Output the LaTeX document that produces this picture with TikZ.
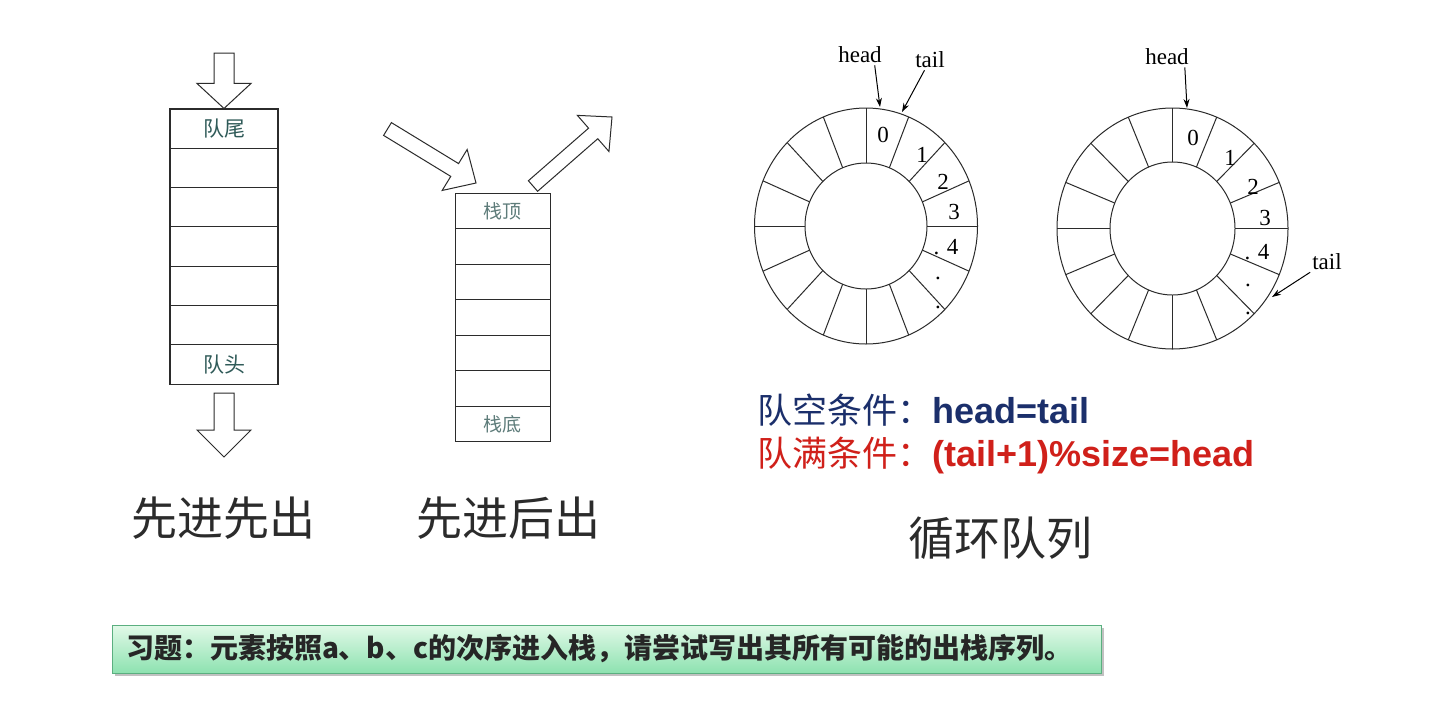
\documentclass[tikz,border=0pt]{standalone}
\usepackage{fontspec}
\setmainfont{Liberation Serif}
\newfontfamily\cjk{Noto Sans CJK SC}
\newfontfamily\arialfont{Liberation Sans}
\usetikzlibrary{calc,arrows.meta,shadows,positioning}
\definecolor{ink}{HTML}{2B2B2B}
\definecolor{qtext}{HTML}{2F5A58}
\definecolor{stext}{HTML}{5E7C7A}
\definecolor{navy}{HTML}{1B2F6B}
\definecolor{redc}{HTML}{D0201A}
\definecolor{boxtop}{HTML}{E2F9E8}
\definecolor{boxbot}{HTML}{8DE2B0}
\definecolor{boxline}{HTML}{5BAF80}
\tikzset{
  qcell/.style={draw=ink, line width=1.1pt, minimum width=108pt, minimum height=39.3pt, inner sep=0pt, text=qtext, font=\cjk\fontsize{21}{21}\selectfont},
  scell/.style={draw=ink, line width=1pt, minimum width=95pt, minimum height=35.57pt, inner sep=0pt, text=stext, font=\cjk\fontsize{19}{19}\selectfont},
  blockarr/.style={draw=ink, line width=1pt, fill=white, line join=miter},
  ringline/.style={draw=ink, line width=1pt},
  digit/.style={inner sep=0pt, text=black, font=\fontsize{23}{23}\selectfont},
  ptrlabel/.style={inner sep=2pt, text=black, font=\fontsize{23}{23}\selectfont},
  ptr/.style={draw=black, line width=1pt, -{Stealth[length=9pt,width=6pt]}},
  caption/.style={inner sep=0pt, text=ink, font=\cjk\fontsize{46}{46}\selectfont},
  condtext/.style={anchor=west, inner sep=0pt},
  taskbox/.style={draw=boxline, line width=1pt, top color=boxtop, bottom color=boxbot, anchor=west, minimum height=48pt, text width=962pt, inner xsep=13.5pt, align=left, text=black!85, font=\cjk\bfseries\fontsize{28}{28}\selectfont, drop shadow={shadow xshift=2pt, shadow yshift=-3pt, fill=black!40, opacity=.6}}
}
\newcommand\blockarrow[5]{
  \coordinate (#1-b) at ($(#2)!#5!(#1)$);
  \draw[blockarr] ($(#1)!#3!90:(#2)$) -- ($(#1-b)!#3!90:(#2)$) -- ($(#1-b)!#4!90:(#2)$) -- (#2) -- ($(#1-b)!#4!-90:(#2)$) -- ($(#1-b)!#3!-90:(#2)$) -- ($(#1)!#3!-90:(#2)$) -- cycle;
}
\begin{document}
\begin{tikzpicture}[x=1pt,y=-1pt]
\useasboundingbox[fill=white] (0,0) rectangle (1435,721);
\node[qcell] (q1) at (224,128.65){队尾};
\node[qcell] (q2) at (224,167.95){};
\node[qcell] (q3) at (224,207.25){};
\node[qcell] (q4) at (224,246.55){};
\node[qcell] (q5) at (224,285.85){};
\node[qcell] (q6) at (224,325.15){};
\node[qcell] (q7) at (224,364.45){队头};
\coordinate (qin) at (224,53);
\coordinate (qout) at (224,393);
\coordinate (qout-p) at (224,457);
\blockarrow{qin}{q1.north}{10pt}{27pt}{25pt}
\blockarrow{qout}{qout-p}{10pt}{27pt}{27pt}
\node[scell] (s1) at (502.5,210.8){栈顶};
\node[scell] (s2) at (502.5,246.4){};
\node[scell] (s3) at (502.5,281.9){};
\node[scell] (s4) at (502.5,317.5){};
\node[scell] (s5) at (502.5,353.1){};
\node[scell] (s6) at (502.5,388.6){};
\node[scell] (s7) at (502.5,424.2){栈底};
\coordinate (sin) at (387.5,129);
\coordinate (sin-p) at (476,183);
\coordinate (sout) at (533,186);
\coordinate (sout-p) at (612,117);
\blockarrow{sin}{sin-p}{7.5pt}{24pt}{25pt}
\blockarrow{sout}{sout-p}{7pt}{24pt}{25pt}
\coordinate (r1) at (866,226);
\draw[ringline] (r1) ellipse [x radius=111.5pt, y radius=118pt];
\draw[ringline] (r1) ellipse [x radius=61pt, y radius=63pt];
\foreach \a in {0,22.5,...,337.5}
  \draw[ringline, shift={(r1)}] (\a:61pt and 63pt) -- (\a:111.5pt and 118pt);
\node[digit] (d10) at (883,135){0};
\node[digit] (d11) at (922,155){1};
\node[digit] (d12) at (943,182){2};
\node[digit] (d13) at (954,212){3};
\node[digit] (d14) at (946,247){.\,\,4};
\node[digit] (d15) at (938,278){.};
\node[digit] (d16) at (938,307){.};
\node[ptrlabel] (h1) at (860,55){head};
\node[ptrlabel] (t1) at (930,60){tail};
\coordinate (h1p) at (880,107);
\coordinate (t1p) at (902,112);
\draw[ptr] (h1.325) -- (h1p);
\draw[ptr] (t1) -- (t1p);
\coordinate (r2) at (1172.5,228.5);
\draw[ringline] (r2) ellipse [x radius=115.5pt, y radius=120.5pt];
\draw[ringline] (r2) ellipse [x radius=62.5pt, y radius=66.5pt];
\foreach \a in {0,22.5,...,337.5}
  \draw[ringline, shift={(r2)}] (\a:62.5pt and 66.5pt) -- (\a:115.5pt and 120.5pt);
\node[digit] (d20) at (1193,138){0};
\node[digit] (d21) at (1230,158){1};
\node[digit] (d22) at (1253,187){2};
\node[digit] (d23) at (1265,218){3};
\node[digit] (d24) at (1257,252){.\,\,4};
\node[digit] (d25) at (1248,285){.};
\node[digit] (d26) at (1248,313){.};
\node[ptrlabel] (h2) at (1167,57){head};
\node[ptrlabel] (t2) at (1327,262){tail};
\coordinate (h2p) at (1187,108);
\coordinate (t2p) at (1272,297);
\draw[ptr] (h2.330) -- (h2p);
\draw[ptr] (t2.south west) -- (t2p);
\node[condtext, text=navy] (empty) at (757,410){\cjk\fontsize{35}{35}\selectfont 队空条件：\arialfont\bfseries\fontsize{36}{36}\selectfont head=tail};
\node[condtext, text=redc] (full) at (757,455){\cjk\fontsize{35}{35}\selectfont 队满条件：\arialfont\bfseries\fontsize{36}{36}\selectfont (tail+1)\%size=head};
\node[caption] (fifo) at (223,518){先进先出};
\node[caption] (lifo) at (508,518){先进后出};
\node[caption] (ring) at (1000,538){循环队列};
\node[taskbox] (task) at (112,649){习题：元素按照a、b、c的次序进入栈，请尝试写出其所有可能的出栈序列。};
\end{tikzpicture}
\end{document}
